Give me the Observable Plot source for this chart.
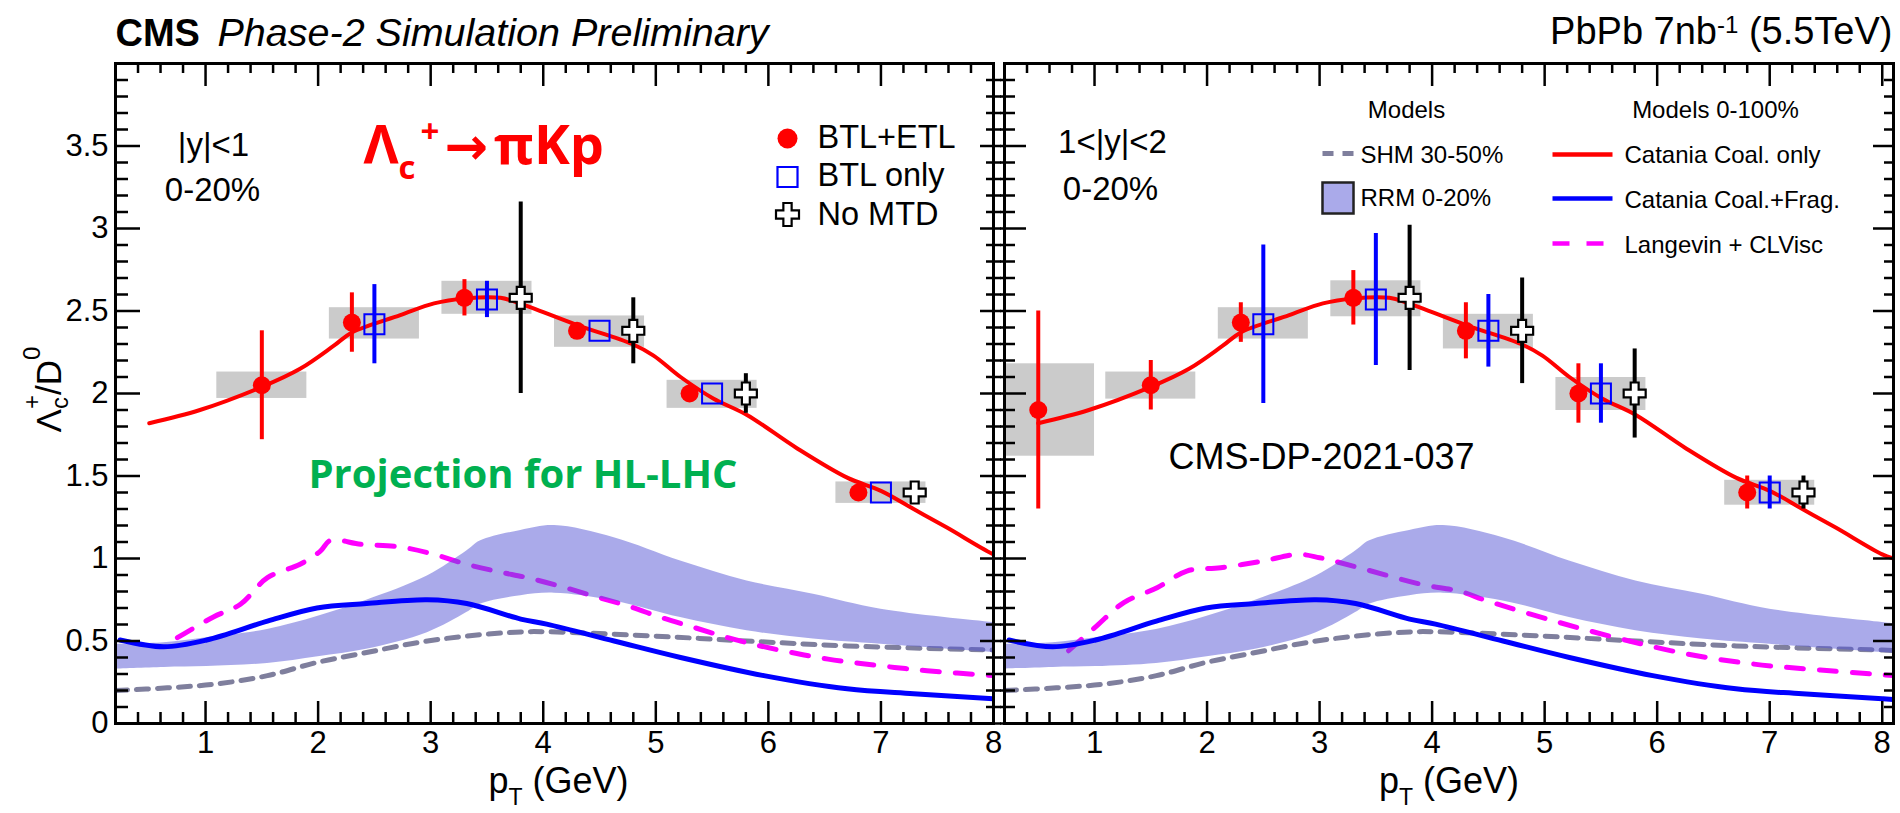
<!DOCTYPE html>
<html>
<head>
<meta charset="utf-8">
<script src="https://cdn.jsdelivr.net/npm/d3@7"></script>
<script src="https://cdn.jsdelivr.net/npm/@observablehq/plot@0.6"></script>
<style>
html, body { margin: 0; padding: 0; background: #fff; }
#fig { position: relative; width: 1900px; height: 813px; overflow: hidden; background: #fff; }
#fig svg { position: absolute; top: 0; }
</style>
</head>
<body>
<div id="fig"></div>
<script>
// ---------------- tick positions / labels ----------------
const xMajorTicks = [1, 2, 3, 4, 5, 6, 7, 8];
const xMinorTicks = [0.4, 0.6, 0.8, 1.2, 1.4, 1.6, 1.8, 2.2, 2.4, 2.6, 2.8, 3.2, 3.4, 3.6, 3.8,
  4.2, 4.4, 4.6, 4.8, 5.2, 5.4, 5.6, 5.8, 6.2, 6.4, 6.6, 6.8, 7.2, 7.4, 7.6, 7.8];
const yMajorTicks = [0, 0.5, 1, 1.5, 2, 2.5, 3, 3.5];
const yMinorTicks = [0.1, 0.2, 0.3, 0.4, 0.6, 0.7, 0.8, 0.9, 1.1, 1.2, 1.3, 1.4, 1.6, 1.7, 1.8, 1.9,
  2.1, 2.2, 2.3, 2.4, 2.6, 2.7, 2.8, 2.9, 3.1, 3.2, 3.3, 3.4, 3.6, 3.7, 3.8, 3.9];

// ---------------- models (shared by both panels) ----------------
// Catania Coal. only
const coX = [0.5, 0.95, 1.5, 1.84, 2.14, 2.3, 2.73, 3.03, 3.3, 3.62, 3.79, 4.3, 4.79, 4.98, 5.22, 5.51, 5.81, 6.25, 6.7, 7.0, 7.29, 7.59, 8.0, 8.1];
const coY = [1.82, 1.90, 2.04, 2.15, 2.29, 2.37, 2.475, 2.546, 2.576, 2.58, 2.546, 2.415, 2.30, 2.23, 2.10, 1.97, 1.87, 1.67, 1.49, 1.41, 1.30, 1.186, 1.025, 1.0];
// Catania Coal.+Frag.
const cfX = [0.24, 0.63, 1.01, 1.55, 1.99, 2.43, 2.97, 3.32, 3.8, 4.03, 4.63, 5.22, 5.96, 6.7, 7.29, 8.0, 8.1];
const cfY = [0.506, 0.465, 0.506, 0.62, 0.70, 0.727, 0.75, 0.727, 0.633, 0.602, 0.50, 0.40, 0.29, 0.21, 0.18, 0.15, 0.145];
// SHM 30-50%
const shmX = [0.2, 0.66, 1.1, 1.55, 1.99, 2.43, 2.88, 3.32, 3.8, 4.03, 4.92, 5.81, 6.7, 8.0, 8.1];
const shmY = [0.2, 0.216, 0.24, 0.29, 0.37, 0.43, 0.49, 0.53, 0.555, 0.556, 0.532, 0.50, 0.47, 0.445, 0.443];
// RRM 0-20% band
const rrmX  = [0.2, 0.63, 1.01, 1.55, 2.0, 2.43, 2.97, 3.32, 3.44, 3.8, 4.1, 4.63, 5.22, 5.81, 6.4, 7.0, 8.0, 8.1];
const rrmHi = [0.48, 0.49, 0.52, 0.57, 0.65, 0.747, 0.894, 1.045, 1.106, 1.17, 1.20, 1.126, 0.985, 0.864, 0.784, 0.693, 0.612, 0.605];
const rrmLo = [0.33, 0.34, 0.345, 0.364, 0.405, 0.45, 0.55, 0.672, 0.723, 0.775, 0.79, 0.743, 0.642, 0.562, 0.512, 0.48, 0.43, 0.425];

// ---------------- left panel: |y|<1, 0-20% ----------------
const L_lgvX = [0.75, 1.07, 1.31, 1.55, 1.84, 2.02, 2.11, 2.38, 2.73, 3.03, 3.32, 3.6, 3.87, 4.16, 4.46, 4.75, 5.05, 5.34, 5.64, 5.93, 6.23, 6.53, 6.82, 7.12, 7.41, 8.0, 8.1];
const L_lgvY = [0.52, 0.646, 0.723, 0.884, 0.965, 1.045, 1.11, 1.086, 1.07, 1.025, 0.965, 0.92, 0.882, 0.83, 0.77, 0.713, 0.642, 0.582, 0.52, 0.47, 0.427, 0.39, 0.364, 0.34, 0.32, 0.29, 0.285];
const L_btlEtlX = [1.5, 2.3, 3.3, 4.3, 5.3, 6.8];
const L_btlEtlY = [2.05, 2.43, 2.58, 2.38, 2.0, 1.4];
const L_btlEtlE = [0.33, 0.18, 0.11, 0.0, 0.0, 0.0];
const L_btlOnlyX = [2.5, 3.5, 4.5, 5.5, 7.0];
const L_btlOnlyY = [2.42, 2.57, 2.38, 2.0, 1.4];
const L_btlOnlyE = [0.24, 0.11, 0.0, 0.0, 0.0];
const L_noMtdX = [3.8, 4.8, 5.8, 7.3];
const L_noMtdY = [2.58, 2.38, 2.0, 1.4];
const L_noMtdE = [0.58, 0.2, 0.12, 0.0];
const L_boxX1 = [1.1, 2.1, 3.1, 4.1, 5.1, 6.6];
const L_boxX2 = [1.9, 2.9, 3.9, 4.9, 5.9, 7.4];
const L_boxY1 = [1.97, 2.33, 2.48, 2.28, 1.91, 1.334];
const L_boxY2 = [2.13, 2.52, 2.68, 2.47, 2.08, 1.464];

// ---------------- right panel: 1<|y|<2, 0-20% ----------------
const R_lgvX = [0.77, 1.02, 1.26, 1.56, 1.82, 2.12, 2.5, 2.8, 3.0, 3.4, 3.9, 4.25, 4.49, 5.08, 5.68, 6.27, 6.86, 7.45, 8.1];
const R_lgvY = [0.441, 0.592, 0.733, 0.824, 0.924, 0.944, 0.985, 1.025, 1.005, 0.935, 0.844, 0.80, 0.743, 0.622, 0.512, 0.421, 0.36, 0.324, 0.29];
const R_btlEtlX = [0.5, 1.5, 2.3, 3.3, 4.3, 5.3, 6.8];
const R_btlEtlY = [1.9, 2.05, 2.43, 2.58, 2.38, 2.0, 1.4];
const R_btlEtlE = [0.6, 0.15, 0.12, 0.165, 0.17, 0.18, 0.1];
const R_btlOnlyX = [2.5, 3.5, 4.5, 5.5, 7.0];
const R_btlOnlyY = [2.42, 2.57, 2.38, 2.0, 1.4];
const R_btlOnlyE = [0.48, 0.4, 0.22, 0.18, 0.1];
const R_noMtdX = [3.8, 4.8, 5.8, 7.3];
const R_noMtdY = [2.58, 2.38, 2.0, 1.4];
const R_noMtdE = [0.44, 0.32, 0.27, 0.1];
const R_boxX1 = [0.2, 1.1, 2.1, 3.1, 4.1, 5.1, 6.6];
const R_boxX2 = [1.0, 1.9, 2.9, 3.9, 4.9, 5.9, 7.4];
const R_boxY1 = [1.62, 1.966, 2.33, 2.465, 2.27, 1.897, 1.323];
const R_boxY2 = [2.18, 2.13, 2.52, 2.683, 2.48, 2.097, 1.474];

// ---------------- styles ----------------
const FONT = "'Liberation Sans', Arial, Helvetica, sans-serif";
const C_RED = "#ff0000", C_BLUE = "#0000ff", C_MAG = "#ff00ff", C_GRAY = "#7f7f9d";
const C_BOX = "#cbcbcb", C_BAND = "#5555d5";

const SYM_CROSS = {
  draw(ctx, size) {
    const r = Math.sqrt(size / Math.PI), a = r * 0.36;
    ctx.moveTo(-a, -r); ctx.lineTo(a, -r); ctx.lineTo(a, -a); ctx.lineTo(r, -a);
    ctx.lineTo(r, a); ctx.lineTo(a, a); ctx.lineTo(a, r); ctx.lineTo(-a, r);
    ctx.lineTo(-a, a); ctx.lineTo(-r, a); ctx.lineTo(-r, -a); ctx.lineTo(-a, -a); ctx.closePath();
  }
};
const SYM_LINE = {
  draw(ctx, size) {
    const r = Math.sqrt(size / Math.PI);
    ctx.moveTo(-r, 0); ctx.lineTo(r, 0);
  }
};

function T(s, o) {
  return Plot.text([s], {text: d => d, frameAnchor: "top-left", lineAnchor: "bottom", textAnchor: "start", fill: "black", fontFamily: FONT, ...o});
}

// replace a plain text (found by its content) with sub/superscript tspans
function richify(svg, content, parts) {
  const t = Array.from(svg.querySelectorAll("text")).find(e => e.textContent === content);
  if (!t) return;
  t.textContent = "";
  for (const p of parts) {
    const s = document.createElementNS("http://www.w3.org/2000/svg", "tspan");
    s.textContent = p.t;
    if (p.size) s.setAttribute("font-size", p.size);
    if (p.dx) s.setAttribute("dx", p.dx);
    if (p.dy) s.setAttribute("dy", p.dy);
    if (p.family) s.setAttribute("font-family", p.family);
    t.appendChild(s);
  }
}

function buildPanel(c) {
  const series = (xs, ys) => xs.map((x, i) => ({x, y: ys[i]}));
  const withErr = (xs, ys, es) => xs.map((x, i) => ({x, y: ys[i], lo: ys[i] - es[i], hi: ys[i] + es[i]}));
  const boxes = c.boxX1.map((x1, i) => ({x1, x2: c.boxX2[i], y1: c.boxY1[i], y2: c.boxY2[i]}));
  const band = rrmX.map((x, i) => ({x, lo: rrmLo[i], hi: rrmHi[i]}));
  const red = withErr(c.redX, c.redY, c.redE);
  const blue = withErr(c.blueX, c.blueY, c.blueE);
  const black = withErr(c.blackX, c.blackY, c.blackE);
  const curve = "catmull-rom";
  const tk = {strokeWidth: 2.5, label: null, tickFormat: () => "", fill: "none"};

  const marks = [
    Plot.rect(boxes, {x1: "x1", x2: "x2", y1: "y1", y2: "y2", fill: C_BOX, clip: true}),
    Plot.line(series(shmX, shmY), {x: "x", y: "y", stroke: C_GRAY, strokeWidth: 5, strokeDasharray: "12,9", curve, clip: true}),
    Plot.line(series(c.lgvX, c.lgvY), {x: "x", y: "y", stroke: C_MAG, strokeWidth: 5, strokeDasharray: "17,16", curve, clip: true}),
    Plot.areaY(band, {x: "x", y1: "lo", y2: "hi", fill: C_BAND, fillOpacity: 0.5, curve, clip: true}),
    Plot.line(series(cfX, cfY), {x: "x", y: "y", stroke: C_BLUE, strokeWidth: 5, curve, clip: true}),
    Plot.line(series(coX, coY), {x: "x", y: "y", stroke: C_RED, strokeWidth: 4, curve, clip: true}),
    Plot.ruleX(red, {x: "x", y1: "lo", y2: "hi", stroke: C_RED, strokeWidth: 4}),
    Plot.ruleX(blue, {x: "x", y1: "lo", y2: "hi", stroke: C_BLUE, strokeWidth: 4}),
    Plot.ruleX(black, {x: "x", y1: "lo", y2: "hi", stroke: "black", strokeWidth: 4}),
    Plot.dot(red, {x: "x", y: "y", r: 9, fill: C_RED}),
    Plot.dot(blue, {x: "x", y: "y", r: 11.3, symbol: "square", fill: "none", stroke: C_BLUE, strokeWidth: 2}),
    Plot.dot(black, {x: "x", y: "y", r: 11, symbol: SYM_CROSS, fill: "white", stroke: "black", strokeWidth: 2.2}),

    // inward ticks (ROOT style)
    Plot.axisX({anchor: "bottom", ticks: xMajorTicks, tickSize: -22, ...tk}),
    Plot.axisX({anchor: "bottom", ticks: xMinorTicks, tickSize: -11, ...tk}),
    Plot.axisX({anchor: "top", ticks: xMajorTicks, tickSize: -22, ...tk}),
    Plot.axisX({anchor: "top", ticks: xMinorTicks, tickSize: -9, ...tk}),
    Plot.axisY({anchor: "left", ticks: yMajorTicks, tickSize: -c.leftMajor, ...tk}),
    Plot.axisY({anchor: "left", ticks: yMinorTicks, tickSize: -c.leftMinor, ...tk}),
    Plot.axisY({anchor: "right", ticks: yMajorTicks, tickSize: -c.rightMajor, ...tk}),
    Plot.axisY({anchor: "right", ticks: yMinorTicks, tickSize: -c.rightMinor, ...tk}),
    // tick labels
    Plot.axisX({anchor: "bottom", ticks: xMajorTicks, tickSize: 0, tickPadding: 7, tickFormat: d => String(d), fontSize: 31, label: null}),
    Plot.frame({stroke: "black", strokeWidth: 3}),
    // x title
    Plot.text(["pT (GeV)"], {text: d => d, frameAnchor: "bottom", dx: c.xTitleDx, dy: 69, lineAnchor: "bottom", textAnchor: "middle", fontSize: 36, fontFamily: FONT, fill: "black"})
  ];
  if (c.outLeft) {
    marks.push(Plot.axisY({anchor: "left", ticks: yMajorTicks, tickSize: c.outLeft, ...tk}));
    marks.push(Plot.axisY({anchor: "left", ticks: yMinorTicks, tickSize: c.outLeft, ...tk}));
  }
  if (c.outRight) {
    marks.push(Plot.axisY({anchor: "right", ticks: yMajorTicks, tickSize: c.outRight, ...tk}));
    marks.push(Plot.axisY({anchor: "right", ticks: yMinorTicks, tickSize: c.outRight, ...tk}));
  }
  marks.push(...c.extra);

  const svg = Plot.plot({
    width: c.width, height: 813,
    marginLeft: c.marginLeft, marginRight: c.marginRight, marginTop: 63, marginBottom: 90,
    x: {domain: c.xDomain},
    y: {domain: [0, 4]},
    style: {fontFamily: FONT, fontSize: "30px", background: "transparent", color: "black", overflow: "visible"},
    marks
  });
  svg.style.left = c.left + "px";
  return svg;
}

// ---------------- left panel ----------------
const leftExtra = [
  Plot.axisY({anchor: "left", ticks: yMajorTicks, tickSize: 0, tickPadding: 7, tickFormat: d => String(d), fontSize: 31, label: null}),
  // y title
  Plot.text(["Λc+/D0"], {text: d => d, frameAnchor: "left", dx: -55, dy: -4, rotate: -90, lineAnchor: "bottom", textAnchor: "middle", fontSize: 35, fontFamily: FONT, fill: "black"}),
  // header
  T("CMS", {dx: 0, dy: -18, fontSize: 38, fontWeight: "bold"}),
  T("Phase-2 Simulation Preliminary", {dx: 102, dy: -18, fontSize: 39.5, fontStyle: "italic"}),
  // labels
  T("|y|<1", {dx: 98, dy: 92, fontSize: 33, textAnchor: "middle"}),
  T("0-20%", {dx: 97, dy: 137, fontSize: 33, textAnchor: "middle"}),
  T("Λc+→πKp", {dx: 248, dy: 100, fontSize: 54, fontWeight: "bold", fill: C_RED, fontFamily: "'Open Sans', sans-serif"}),
  T("Projection for HL-LHC", {dx: 193, dy: 424, fontSize: 40, fontWeight: "bold", fill: "#00b050", fontFamily: "'Open Sans', sans-serif"}),
  // legend
  Plot.dot([0], {frameAnchor: "top-left", dx: 672, dy: 75, r: 10, fill: C_RED}),
  Plot.dot([0], {frameAnchor: "top-left", dx: 672, dy: 113.5, r: 11.3, symbol: "square", fill: "none", stroke: C_BLUE, strokeWidth: 2.2}),
  Plot.dot([0], {frameAnchor: "top-left", dx: 672, dy: 151, r: 11.5, symbol: SYM_CROSS, fill: "white", stroke: "black", strokeWidth: 2.2}),
  T("BTL+ETL", {dx: 702, dy: 84, fontSize: 32.5}),
  T("BTL only", {dx: 702, dy: 122, fontSize: 32.5}),
  T("No MTD", {dx: 702, dy: 161, fontSize: 32.5})
];

const svgL = buildPanel({
  width: 1000, marginLeft: 115, marginRight: 7, left: 0, xDomain: [0.2, 8.0],
  lgvX: L_lgvX, lgvY: L_lgvY,
  redX: L_btlEtlX, redY: L_btlEtlY, redE: L_btlEtlE,
  blueX: L_btlOnlyX, blueY: L_btlOnlyY, blueE: L_btlOnlyE,
  blackX: L_noMtdX, blackY: L_noMtdY, blackE: L_noMtdE,
  boxX1: L_boxX1, boxX2: L_boxX2, boxY1: L_boxY1, boxY2: L_boxY2,
  leftMajor: 25, leftMinor: 13, rightMajor: 14, rightMinor: 8, outRight: 7, outLeft: 0,
  xTitleDx: 4,
  extra: leftExtra
});

// ---------------- right panel ----------------
const rightExtra = [
  T("PbPb 7nb-1 (5.5TeV)", {frameAnchor: "top-right", textAnchor: "end", dx: -1, dy: -20, fontSize: 38}),
  T("1<|y|<2", {dx: 108, dy: 89, fontSize: 33, textAnchor: "middle"}),
  T("0-20%", {dx: 106, dy: 136, fontSize: 33, textAnchor: "middle"}),
  T("CMS-DP-2021-037", {dx: 164, dy: 405, fontSize: 36}),
  // legend: models
  T("Models", {dx: 402, dy: 54, fontSize: 24, textAnchor: "middle"}),
  T("Models 0-100%", {dx: 711, dy: 54, fontSize: 24, textAnchor: "middle"}),
  Plot.dot([0], {frameAnchor: "top-left", dx: 333.5, dy: 90, r: 15.5, symbol: SYM_LINE, fill: "none", stroke: C_GRAY, strokeWidth: 5, strokeDasharray: "11,9"}),
  Plot.dot([0], {frameAnchor: "top-left", dx: 333.5, dy: 134.5, r: 17.5, symbol: "square", fill: "#aaaaea", stroke: "#222", strokeWidth: 2.5}),
  T("SHM 30-50%", {dx: 356, dy: 99, fontSize: 24}),
  T("RRM 0-20%", {dx: 356, dy: 142, fontSize: 24}),
  Plot.dot([0], {frameAnchor: "top-left", dx: 578, dy: 91, r: 30, symbol: SYM_LINE, fill: "none", stroke: C_RED, strokeWidth: 4.5}),
  Plot.dot([0], {frameAnchor: "top-left", dx: 578, dy: 135, r: 30, symbol: SYM_LINE, fill: "none", stroke: C_BLUE, strokeWidth: 4.5}),
  Plot.dot([0], {frameAnchor: "top-left", dx: 573.5, dy: 180, r: 25.5, symbol: SYM_LINE, fill: "none", stroke: C_MAG, strokeWidth: 4.5, strokeDasharray: "17,17"}),
  T("Catania Coal. only", {dx: 620, dy: 99, fontSize: 24}),
  T("Catania Coal.+Frag.", {dx: 620, dy: 144, fontSize: 24}),
  T("Langevin + CLVisc", {dx: 620, dy: 189, fontSize: 24})
];

const svgR = buildPanel({
  width: 900, marginLeft: 4, marginRight: 7, left: 1000, xDomain: [0.2, 8.1],
  lgvX: R_lgvX, lgvY: R_lgvY,
  redX: R_btlEtlX, redY: R_btlEtlY, redE: R_btlEtlE,
  blueX: R_btlOnlyX, blueY: R_btlOnlyY, blueE: R_btlOnlyE,
  blackX: R_noMtdX, blackY: R_noMtdY, blackE: R_noMtdE,
  boxX1: R_boxX1, boxX2: R_boxX2, boxY1: R_boxY1, boxY2: R_boxY2,
  leftMajor: 22, leftMinor: 11, rightMajor: 21, rightMinor: 10, outRight: 0, outLeft: 4,
  xTitleDx: 0,
  extra: rightExtra
});

const fig = document.getElementById("fig");
fig.appendChild(svgL);
fig.appendChild(svgR);

// sub/superscripts
const xt = [{t: "p"}, {t: "T", size: 23, dy: 12}, {t: " (GeV)", size: 36, dy: -12}];
richify(svgL, "pT (GeV)", xt);
richify(svgR, "pT (GeV)", xt);
richify(svgL, "Λc+/D0", [{t: "Λ"}, {t: "c", size: 24, dy: 7}, {t: "+", size: 24, dx: -12, dy: -28}, {t: "/D", size: 35, dy: 21}, {t: "0", size: 24, dy: -21}]);
richify(svgL, "Λc+→πKp", [{t: "Λ"}, {t: "c", size: 33, dy: 15}, {t: "+", size: 33, dx: 5, dy: -36},
  {t: "→", size: 52, dx: 5, dy: 21, family: "'DejaVu Sans', sans-serif"}, {t: "πKp", size: 54, dx: 6}]);
richify(svgR, "PbPb 7nb-1 (5.5TeV)", [{t: "PbPb 7nb"}, {t: "-1", size: 24, dy: -11}, {t: " (5.5TeV)", size: 38, dy: 11}]);
</script>
</body>
</html>
